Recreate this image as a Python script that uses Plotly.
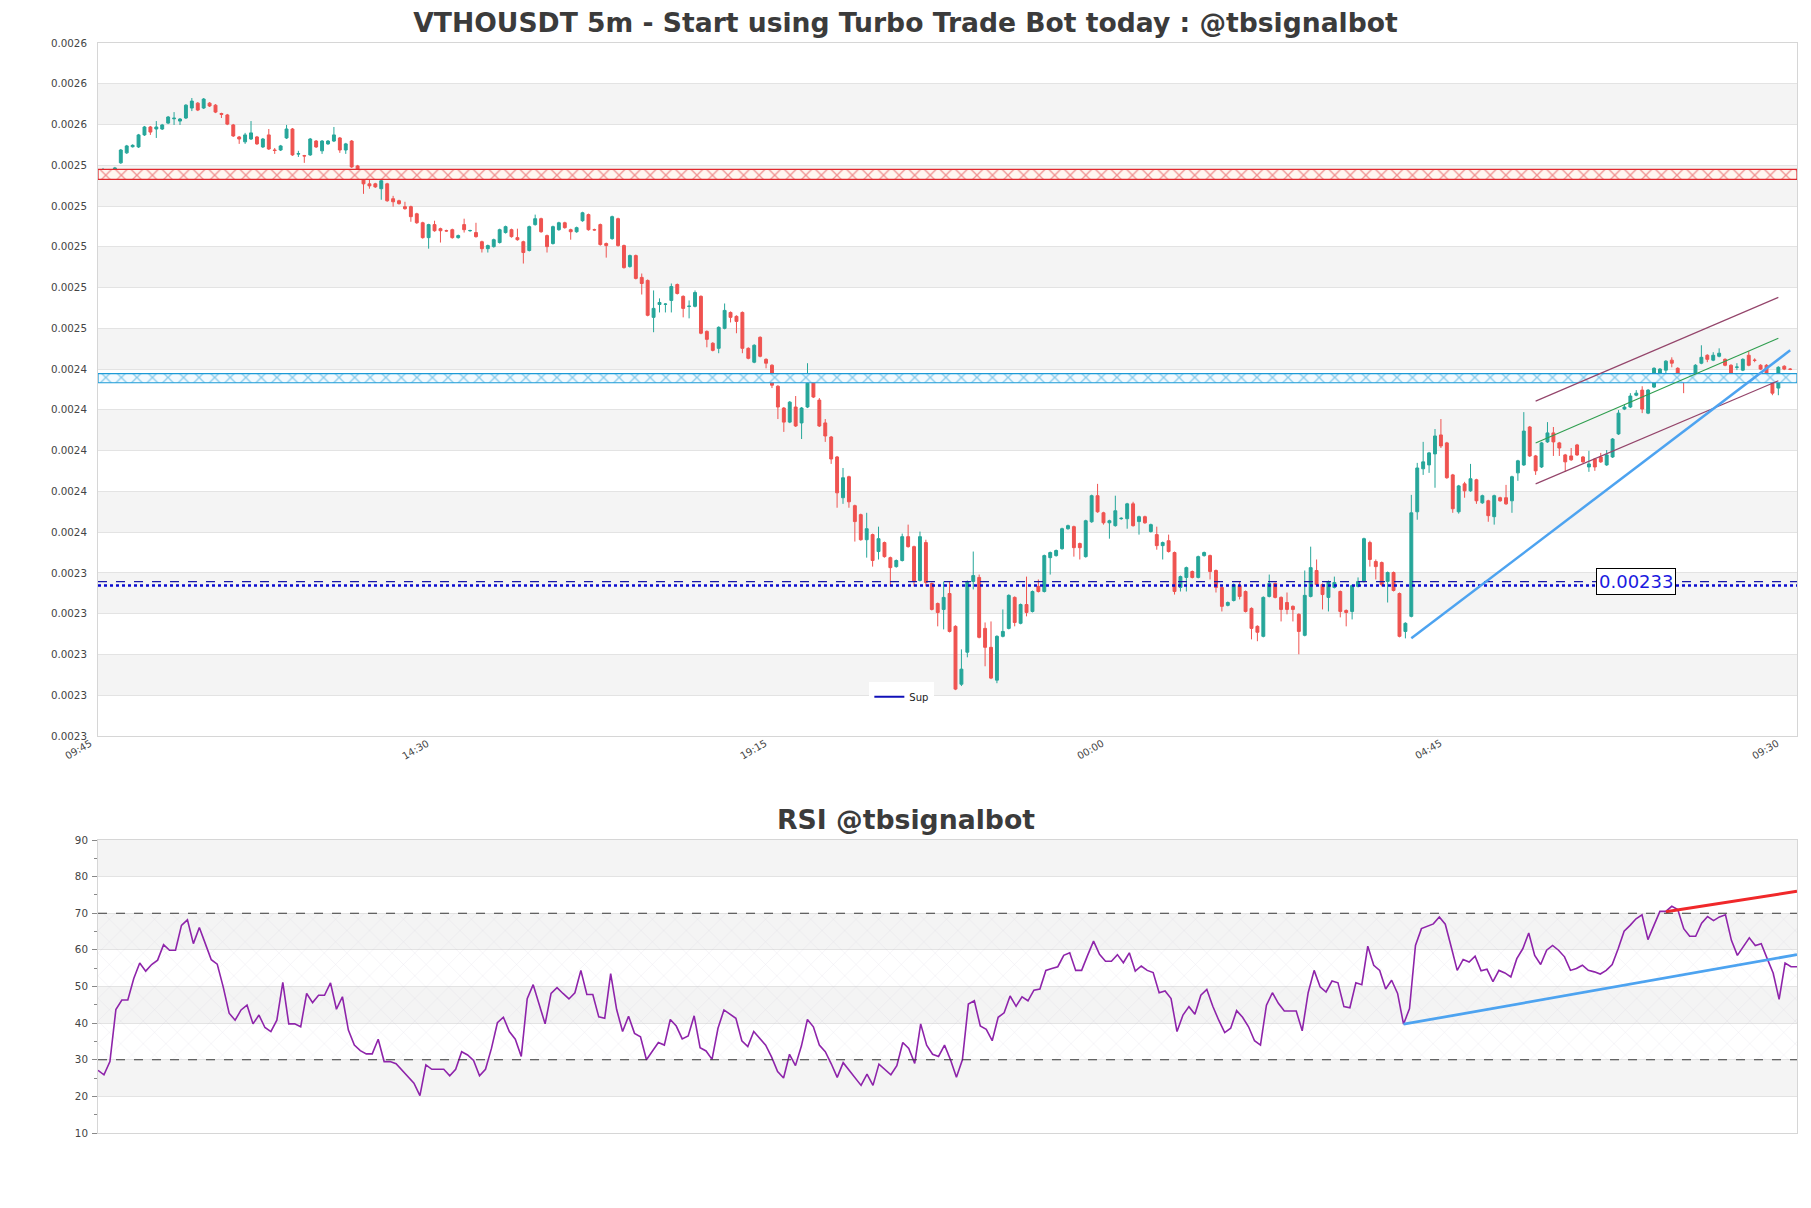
import numpy as np
import pandas as pd
import plotly.graph_objects as go

# ---------------- data (prices in millionths of USDT) ----------------
OPEN_U = [
2531.6,2533.1,2531.6,2537.0,2541.9,2544.9,2544.8,2550.7,2554.6,2553.6,
2553.6,2556.5,2558.6,2557.5,2559.0,2563.9,2566.3,2563.9,2566.3,2565.3,
2561.2,2560.5,2555.6,2549.7,2547.3,2548.7,2549.7,2544.8,2550.7,2543.3,
2543.3,2549.2,2553.6,2541.3,2540.5,2540.9,2547.7,2542.9,2546.3,2547.7,
2549.2,2543.3,2547.7,2535.5,2530.1,2526.7,2526.7,2524.3,2526.7,2519.4,
2518.4,2515.5,2515.5,2512.0,2507.6,2500.3,2506.7,2504.7,2503.7,2504.2,
2500.3,2506.7,2503.7,2502.8,2498.3,2494.9,2495.9,2497.9,2502.8,2504.2,
2500.3,2498.3,2494.0,2506.7,2509.6,2501.3,2497.4,2504.2,2507.6,2504.2,
2503.2,2508.6,2511.6,2504.2,2506.7,2497.4,2499.8,2509.6,2496.4,2486.1,
2491.5,2480.8,2479.3,2461.2,2467.5,2467.6,2469.5,2477.3,2471.5,2466.5,
2466.6,2471.5,2454.3,2448.5,2446.0,2455.8,2463.6,2461.7,2463.6,2446.0,
2439.2,2451.4,2440.6,2437.7,2427.4,2416.7,2409.8,2417.2,2409.4,2417.2,
2432.8,2420.6,2409.4,2402.5,2392.7,2372.7,2383.0,2368.8,2364.4,2352.1,
2354.6,2346.3,2350.7,2343.3,2338.9,2341.9,2353.6,2348.7,2332.1,2350.7,
2330.6,2320.8,2317.9,2325.7,2309.6,2281.2,2296.9,2331.6,2333.6,2308.6,
2299.3,2283.2,2304.7,2308.6,2323.8,2311.1,2320.3,2316.9,2329.2,2326.7,
2343.3,2344.3,2347.7,2357.5,2358.5,2350.2,2343.8,2360.9,2373.7,2365.3,
2360.4,2359.0,2362.4,2362.4,2369.7,2361.0,2363.4,2356.1,2354.6,2349.2,
2351.6,2345.8,2328.7,2333.6,2336.5,2333.6,2344.3,2344.3,2337.0,2328.7,
2319.9,2322.3,2329.6,2326.7,2318.4,2309.6,2304.7,2324.3,2330.6,2323.8,
2321.3,2319.4,2315.5,2305.2,2324.3,2337.0,2330.1,2323.8,2328.7,2326.7,
2317.4,2316.9,2329.2,2331.6,2350.7,2341.4,2340.9,2331.6,2336.0,2325.7,
2307.1,2314.5,2365.8,2386.9,2388.8,2394.2,2403.5,2399.6,2383.9,2365.8,
2379.5,2376.1,2381.5,2370.2,2371.2,2363.4,2372.7,2372.7,2371.2,2384.9,
2388.8,2407.4,2393.2,2387.8,2400.1,2404.5,2399.6,2393.7,2393.2,2398.6,
2392.7,2387.8,2391.7,2392.7,2388.8,2392.7,2404.0,2416.2,2417.2,2423.0,
2425.5,2414.2,2427.0,2431.4,2435.3,2440.2,2436.2,2431.8,2430.8,2430.4,
2438.7,2442.6,2440.2,2442.1,2440.6,2437.7,2436.7,2435.3,2442.6,2440.2,
2437.7,2437.7,2431.4,2426.5,2437.2,2435.8]

HIGH_U = [
2534.5,2534.0,2535.0,2543.8,2545.8,2546.1,2551.2,2555.1,2555.1,2557.5,
2556.1,2560.0,2561.9,2559.0,2565.8,2568.8,2566.8,2568.8,2566.8,2565.8,
2561.6,2561.0,2556.1,2550.2,2551.7,2557.5,2550.2,2549.2,2553.6,2544.3,
2545.8,2555.6,2554.1,2542.9,2540.9,2549.2,2548.2,2548.2,2548.2,2554.6,
2549.7,2546.8,2548.2,2536.0,2530.6,2529.2,2527.2,2528.7,2527.2,2520.8,
2518.9,2517.9,2516.0,2512.5,2508.1,2507.1,2508.6,2505.2,2504.2,2504.7,
2501.8,2509.6,2504.2,2507.6,2498.8,2496.9,2499.8,2504.7,2506.2,2504.7,
2504.7,2498.8,2506.2,2511.6,2510.1,2501.8,2506.2,2508.1,2508.1,2504.7,
2505.7,2513.0,2512.1,2504.7,2507.2,2497.9,2511.1,2510.1,2496.9,2492.0,
2492.0,2482.7,2479.8,2474.4,2470.5,2468.1,2477.8,2477.8,2472.0,2469.5,
2474.4,2472.0,2454.8,2449.0,2456.8,2468.0,2464.1,2462.2,2464.1,2446.5,
2448.0,2451.9,2441.1,2438.2,2427.9,2417.2,2420.1,2422.6,2417.2,2438.7,
2433.3,2421.6,2411.3,2403.0,2393.2,2387.3,2383.5,2369.3,2364.9,2365.3,
2355.1,2358.5,2351.2,2343.8,2342.4,2355.1,2359.5,2349.2,2356.1,2352.1,
2331.1,2321.3,2331.6,2331.6,2310.1,2298.3,2332.1,2346.3,2335.0,2311.5,
2312.0,2305.2,2317.9,2325.3,2324.3,2320.8,2334.0,2327.2,2332.6,2344.8,
2346.3,2347.3,2358.0,2359.5,2359.0,2350.7,2361.9,2374.2,2379.5,2365.8,
2361.9,2373.7,2363.1,2370.2,2370.7,2363.9,2363.9,2360.0,2358.5,2351.2,
2354.6,2346.3,2334.5,2338.9,2337.0,2344.3,2346.3,2344.8,2337.5,2329.2,
2321.8,2330.6,2331.6,2327.2,2318.9,2310.1,2324.3,2335.0,2331.1,2324.3,
2326.2,2319.9,2316.0,2337.0,2348.7,2342.4,2330.6,2332.1,2334.0,2327.2,
2317.9,2330.1,2333.6,2353.1,2351.6,2342.4,2341.4,2336.5,2336.5,2326.2,
2311.6,2374.1,2389.8,2400.1,2395.2,2406.4,2411.3,2400.1,2384.4,2379.0,
2380.5,2389.3,2382.0,2374.2,2371.7,2374.2,2373.2,2379.0,2383.5,2391.3,
2414.7,2407.9,2393.7,2400.1,2409.8,2407.4,2400.1,2394.2,2397.1,2399.1,
2393.2,2395.7,2392.2,2394.7,2396.1,2402.0,2415.7,2418.6,2424.0,2425.5,
2427.4,2426.0,2436.7,2436.3,2440.2,2441.6,2436.7,2432.3,2431.4,2438.2,
2447.5,2443.1,2444.1,2446.0,2441.1,2438.2,2438.7,2441.1,2444.6,2441.1,
2438.2,2438.2,2431.9,2437.2,2437.7,2436.3]

LOW_U = [
2528.7,2531.4,2531.1,2536.5,2541.4,2544.5,2544.3,2550.2,2550.7,2549.2,
2553.1,2556.0,2555.6,2555.6,2558.5,2562.4,2562.4,2563.4,2564.4,2561.4,
2559.0,2555.5,2549.7,2546.3,2546.3,2548.2,2545.8,2544.3,2543.3,2541.4,
2542.8,2548.7,2540.4,2539.9,2537.0,2540.4,2544.3,2541.4,2545.8,2547.2,
2541.9,2541.4,2534.5,2529.6,2521.8,2524.3,2524.7,2518.9,2517.9,2515.5,
2516.5,2514.0,2508.1,2507.1,2499.8,2494.9,2503.2,2497.9,2503.2,2499.8,
2499.8,2502.8,2503.2,2500.3,2493.0,2493.0,2495.4,2497.4,2502.3,2500.3,
2498.8,2487.6,2493.5,2506.2,2502.7,2493.0,2496.9,2503.7,2504.7,2499.3,
2502.7,2508.1,2503.7,2503.7,2496.4,2490.5,2499.3,2495.9,2485.1,2485.6,
2479.8,2472.4,2461.7,2453.9,2463.6,2463.6,2463.6,2472.4,2461.2,2460.7,
2466.1,2452.9,2446.5,2444.5,2443.6,2455.3,2458.7,2453.4,2443.6,2440.6,
2438.7,2441.6,2436.2,2426.5,2411.3,2405.0,2409.3,2407.4,2401.5,2416.7,
2421.6,2407.4,2400.1,2389.3,2367.8,2369.7,2367.8,2351.2,2351.6,2343.3,
2338.9,2342.4,2343.3,2329.2,2338.4,2341.4,2348.2,2329.2,2331.6,2329.2,
2317.4,2309.6,2308.1,2306.6,2278.3,2280.3,2294.4,2327.7,2303.7,2290.0,
2283.7,2281.7,2304.2,2308.1,2309.6,2310.6,2314.5,2316.4,2326.2,2326.2,
2335.0,2343.8,2347.2,2357.0,2343.8,2342.4,2343.3,2360.4,2365.3,2359.5,
2352.6,2358.5,2361.9,2357.5,2358.5,2354.6,2359.9,2355.6,2347.2,2342.4,
2345.8,2325.2,2326.7,2326.7,2333.1,2333.1,2343.8,2332.6,2326.2,2316.9,
2319.4,2321.8,2322.8,2316.4,2303.2,2302.3,2304.2,2323.8,2323.3,2312.0,
2315.5,2312.0,2295.9,2304.7,2323.8,2329.6,2317.9,2316.9,2328.2,2314.0,
2309.6,2313.0,2328.7,2331.1,2338.9,2332.6,2329.2,2321.3,2326.7,2304.2,
2303.7,2314.0,2361.9,2383.9,2384.9,2377.6,2397.1,2382.0,2365.3,2364.9,
2372.7,2375.6,2369.7,2369.7,2360.9,2359.5,2370.7,2369.2,2365.3,2381.0,
2388.3,2392.7,2383.9,2387.3,2399.6,2393.2,2393.2,2385.4,2390.8,2393.2,
2389.8,2385.4,2385.9,2389.8,2388.3,2392.2,2403.5,2415.7,2416.7,2422.5,
2414.2,2413.7,2426.5,2430.9,2429.4,2436.7,2431.3,2424.0,2430.4,2429.9,
2438.2,2439.2,2439.7,2441.6,2437.2,2432.3,2435.3,2434.8,2437.2,2439.2,
2435.3,2429.4,2423.0,2423.0,2435.3,2435.3]

CLOSE_U = [
2532.1,2531.8,2534.5,2543.3,2545.3,2545.6,2550.7,2554.6,2552.1,2554.6,
2555.6,2559.5,2558.9,2558.5,2565.3,2567.3,2562.9,2568.3,2564.9,2561.9,
2560.8,2556.0,2550.2,2548.7,2550.7,2551.7,2546.3,2548.7,2543.8,2543.1,
2545.3,2553.6,2540.9,2541.5,2540.4,2548.7,2544.8,2547.7,2547.7,2550.7,
2543.3,2546.3,2535.0,2530.1,2526.7,2525.7,2525.2,2528.2,2518.4,2517.9,
2517.0,2514.5,2510.6,2507.6,2500.3,2506.7,2503.7,2503.7,2503.6,2500.3,
2501.3,2504.2,2503.8,2500.8,2494.9,2496.4,2499.3,2504.2,2505.7,2500.8,
2499.3,2493.0,2505.7,2509.6,2503.2,2495.9,2505.7,2507.6,2505.2,2503.2,
2505.2,2512.5,2504.2,2504.1,2496.9,2496.4,2510.6,2496.4,2485.6,2491.5,
2480.3,2477.8,2462.2,2465.6,2468.5,2467.7,2476.3,2472.9,2465.6,2466.7,
2473.4,2453.4,2450.4,2445.0,2456.3,2464.6,2461.2,2459.2,2446.0,2441.1,
2447.5,2442.1,2438.7,2427.9,2417.2,2409.8,2419.6,2407.9,2416.7,2428.9,
2422.1,2407.9,2403.0,2391.7,2375.1,2382.5,2370.7,2361.0,2352.1,2357.5,
2341.9,2352.6,2343.8,2338.4,2341.9,2353.6,2348.7,2331.6,2353.6,2331.1,
2317.9,2316.4,2323.8,2307.1,2278.8,2288.6,2331.6,2334.5,2304.2,2299.3,
2284.2,2304.7,2307.1,2324.8,2311.5,2320.3,2316.4,2326.7,2326.7,2344.3,
2345.8,2346.8,2357.5,2359.0,2348.2,2348.2,2361.4,2373.7,2365.8,2360.4,
2361.4,2366.3,2362.6,2369.7,2359.0,2363.4,2360.4,2359.5,2349.2,2350.7,
2346.3,2326.7,2334.0,2338.4,2333.6,2343.8,2345.8,2336.5,2328.7,2319.4,
2321.3,2330.1,2324.3,2316.9,2308.6,2306.7,2323.8,2330.6,2323.8,2317.9,
2317.9,2317.9,2307.1,2324.8,2338.4,2330.1,2325.2,2331.6,2331.1,2316.9,
2316.4,2329.6,2331.6,2352.6,2342.4,2338.9,2330.1,2336.0,2327.2,2304.7,
2311.1,2365.3,2387.3,2390.3,2394.7,2403.0,2398.1,2382.5,2367.3,2378.5,
2376.1,2382.0,2371.2,2373.7,2363.9,2373.7,2371.2,2369.7,2383.0,2390.8,
2405.4,2393.2,2385.9,2399.6,2404.5,2400.1,2397.1,2390.3,2391.3,2393.7,
2390.3,2389.3,2387.8,2390.3,2393.7,2401.5,2414.2,2417.2,2422.6,2424.0,
2416.2,2425.5,2436.2,2435.8,2439.7,2438.7,2431.8,2430.4,2430.9,2437.7,
2441.6,2440.6,2442.6,2443.6,2437.7,2432.8,2436.8,2440.6,2437.7,2440.1,
2435.8,2431.8,2424.0,2436.7,2435.8,2435.7]

RSI = [
27.1,25.9,29.5,43.7,46.3,46.3,52.2,56.4,54.2,56.0,
57.2,61.4,59.9,59.9,66.7,68.2,61.7,66.1,61.7,57.3,
56.1,49.9,42.7,40.8,43.6,44.9,39.8,42.2,38.8,37.7,
40.8,51.1,39.8,39.8,39.0,48.1,45.6,47.6,47.6,51.0,
43.8,47.2,38.1,34.0,32.5,31.6,31.6,35.6,29.5,29.5,
28.9,27.1,25.2,23.6,20.2,28.6,27.4,27.4,27.4,25.6,
27.4,32.2,31.3,29.8,25.6,27.4,33.1,40.1,41.6,37.7,
35.6,30.9,46.7,50.5,45.4,39.8,48.1,49.7,48.1,46.6,
48.3,54.4,47.8,47.8,41.7,
41.3,53.5,43.7,37.7,41.9,37.2,36.3,30.0,32.2,34.7,
34.0,41.0,39.2,35.7,36.5,42.0,33.3,32.4,30.1,38.6,
43.6,42.5,41.3,35.2,33.6,37.7,35.9,34.0,30.7,26.8,
25.0,31.5,28.4,33.8,41.0,39.0,34.0,32.2,28.9,25.2,
29.2,27.1,25.0,23.0,26.1,23.0,28.8,27.4,25.9,28.4,
34.7,33.1,29.0,39.8,34.0,31.5,30.9,34.0,30.0,25.2,
30.0,45.2,46.1,39.2,38.3,35.2,41.6,42.8,47.4,44.6,
47.2,46.1,49.0,49.3,54.4,54.9,55.4,58.5,59.2,54.4,
54.4,58.5,62.4,58.8,56.9,56.9,58.7,56.5,59.2,54.2,
55.6,54.4,53.8,48.3,48.8,46.7,37.7,42.2,44.5,42.4,
47.6,
49.2,44.6,40.8,37.4,38.6,43.4,41.6,39.0,35.2,34.0,
44.9,48.3,45.4,43.3,43.3,43.3,37.9,48.3,54.4,49.9,
48.5,51.5,51.0,44.5,44.2,51.0,50.5,61.0,55.8,54.4,
49.3,51.7,48.1,39.7,44.0,61.2,65.8,66.4,67.1,69.0,
67.0,60.8,54.4,57.4,56.7,58.3,54.3,54.7,51.3,54.4,
53.7,52.6,57.6,60.3,64.6,58.5,56.0,59.9,61.2,59.9,
58.1,54.4,54.9,55.8,54.4,54.0,53.4,54.4,56.0,60.3,
65.1,66.7,68.5,69.6,62.8,66.7,70.5,70.5,71.9,71.0,
65.8,63.7,63.7,67.3,69.1,68.0,69.0,69.6,62.6,58.5,
60.8,63.3,61.2,61.7,57.6,53.7,46.5,56.4,55.4,55.4]

START = "2024-05-20 09:45"
TICK_LABEL_TIMES = ["09:45", "14:30", "19:15", "00:00", "04:45", "09:30"]

RES_ZONE_U = [2528.9, 2533.8]
SUP_ZONE_U = [2429.1, 2433.6]
SUP_DASH_U = 2331.5
SUP_DOT_U = 2329.6
SUP_LABEL = "0.00233"

TREND_IDX = [221, 285]
TREND_U = [2303.7, 2445.0]
CH_IDX = [242, 283]
CH_UP_U = [2420.1, 2471.0]
CH_MID_U = [2399.6, 2450.9]
CH_LO_U = [2379.5, 2430.1]

RSI_TREND_IDX = [219, 285]
RSI_TREND = [39.7, 58.7]
RSI_RED_IDX = [263, 285]
RSI_RED = [70.4, 76.0]

# ---------------- build ----------------
U = 1e-6
O = np.array(OPEN_U) * U
H = np.array(HIGH_U) * U
L = np.array(LOW_U) * U
C = np.array(CLOSE_U) * U
times = pd.date_range(START, periods=len(CLOSE_U), freq="5min")
step = pd.Timedelta(minutes=5)
xr0 = times[0] - 0.85 * step
xr1 = times[-1] + 1.15 * step

Y_TOP, Y_BOT = 0.0025958, 0.0022558
yticks = list(np.linspace(Y_TOP, Y_BOT, 18))

FONT = "DejaVu Sans"
TXT = "#444444"
GRID = "#e3e3e3"
BAND = "#f4f4f4"
MAIN_BOTTOM = (1133 - 736) / 1090

fig = go.Figure()

def zone(lo, hi, color, bg):
    fig.add_trace(go.Scatter(
        x=[xr0, xr1, xr1, xr0, xr0], y=[lo * U, lo * U, hi * U, hi * U, lo * U],
        mode="lines", fill="toself", line=dict(color=color, width=1.2),
        fillcolor=bg,
        fillpattern=dict(shape="x", fgcolor=color, bgcolor=bg, size=11, solidity=0.22),
        hoverinfo="skip", showlegend=False, xaxis="x", yaxis="y"))

zone(RES_ZONE_U[0], RES_ZONE_U[1], "#e0282d", "#fff6f0")
zone(SUP_ZONE_U[0], SUP_ZONE_U[1], "#1b9ad6", "#f2faff")

fig.add_trace(go.Scatter(x=[xr0, xr1], y=[SUP_DASH_U * U] * 2, mode="lines",
                         line=dict(color="#1a1aa6", width=1.3, dash="dash"),
                         hoverinfo="skip", showlegend=False, xaxis="x", yaxis="y"))
fig.add_trace(go.Scatter(x=[xr0, xr1], y=[SUP_DOT_U * U] * 2, mode="lines",
                         line=dict(color="#0a0ad0", width=2.5, dash="dot"),
                         hoverinfo="skip", showlegend=False, xaxis="x", yaxis="y"))
fig.add_trace(go.Scatter(x=[None], y=[None], mode="lines", name="Sup",
                         line=dict(color="#1010b8", width=2), xaxis="x", yaxis="y"))

fig.add_trace(go.Candlestick(
    x=times, open=O, high=H, low=L, close=C,
    increasing=dict(line=dict(color="#26a69a", width=1), fillcolor="#26a69a"),
    decreasing=dict(line=dict(color="#ef5350", width=1), fillcolor="#ef5350"),
    whiskerwidth=0, showlegend=False, hoverinfo="skip", xaxis="x", yaxis="y"))

def seg(idx, vals, color, width, scale=U, ax=("x", "y")):
    fig.add_trace(go.Scatter(x=[times[idx[0]], times[idx[1]]],
                             y=[vals[0] * scale, vals[1] * scale], mode="lines",
                             line=dict(color=color, width=width),
                             hoverinfo="skip", showlegend=False,
                             xaxis=ax[0], yaxis=ax[1]))

seg(CH_IDX, CH_UP_U, "#94456b", 1.1)
seg(CH_IDX, CH_LO_U, "#94456b", 1.1)
seg(CH_IDX, CH_MID_U, "#2f9e4f", 1.1)
seg(TREND_IDX, TREND_U, "#4da3f0", 2.5)

# RSI panel
fig.add_trace(go.Scatter(
    x=[times[0], times[-1], times[-1], times[0], times[0]], y=[30, 30, 70, 70, 30],
    mode="lines", fill="toself", line=dict(width=0), fillcolor="rgba(0,0,0,0)",
    fillpattern=dict(shape="x", fgcolor="rgba(175,165,195,0.55)",
                     bgcolor="rgba(0,0,0,0)", size=16, solidity=0.05),
    hoverinfo="skip", showlegend=False, xaxis="x2", yaxis="y2"))
fig.add_trace(go.Scatter(x=times, y=RSI, mode="lines",
                         line=dict(color="#8e24aa", width=1.6),
                         hoverinfo="skip", showlegend=False, xaxis="x2", yaxis="y2"))
seg(RSI_TREND_IDX, RSI_TREND, "#4da3f0", 2.8, scale=1, ax=("x2", "y2"))
seg(RSI_RED_IDX, RSI_RED, "#f0282a", 3.0, scale=1, ax=("x2", "y2"))

shapes = []
for k in range(1, 17, 2):
    shapes.append(dict(type="rect", xref="x domain", yref="y", x0=0, x1=1,
                       y0=yticks[k + 1], y1=yticks[k], fillcolor=BAND,
                       line=dict(width=0), layer="below"))
for lo in (80, 60, 40, 20):
    shapes.append(dict(type="rect", xref="x2 domain", yref="y2", x0=0, x1=1,
                       y0=lo, y1=lo + 10, fillcolor=BAND,
                       line=dict(width=0), layer="below"))
for lvl in (30, 70):
    shapes.append(dict(type="line", xref="x2 domain", yref="y2", x0=0, x1=1,
                       y0=lvl, y1=lvl, line=dict(color="#3a3a3a", width=1.2, dash="dash"),
                       layer="above"))

tick_vals = [times[0] + pd.Timedelta(minutes=285 * k) for k in range(6)]

annotations = [
    dict(text="<b>RSI @tbsignalbot</b>", xref="paper", yref="paper",
         x=(905.5 - 98) / 1699, y=(1133 - 819) / 1090, xanchor="center",
         yanchor="middle", showarrow=False,
         font=dict(family=FONT, size=26.7, color="#3b3b3b")),
    dict(text=SUP_LABEL, x=times[259], y=SUP_DASH_U * U, xref="x", yref="y",
         xanchor="center", yanchor="middle", showarrow=False,
         font=dict(family=FONT, size=18, color="#1a1ae0"),
         bgcolor="white", bordercolor="black", borderwidth=1, borderpad=2),
]
for tv, lab in zip(tick_vals, TICK_LABEL_TIMES):
    annotations.append(dict(text=lab, x=tv, y=MAIN_BOTTOM, xref="x", yref="paper",
                            xanchor="right", yanchor="top", textangle=-30,
                            xshift=-8, yshift=0, showarrow=False, borderpad=0,
                            font=dict(family=FONT, size=10, color=TXT)))

fig.update_layout(
    width=1811, height=1208,
    margin=dict(l=98, r=14, t=43, b=75),
    paper_bgcolor="white", plot_bgcolor="white",
    font=dict(family=FONT, size=10, color=TXT),
    title=dict(text="<b>VTHOUSDT 5m - Start using Turbo Trade Bot today : @tbsignalbot</b>",
               x=0.5, xref="container", xanchor="center",
               y=1 - 23 / 1208, yref="container", yanchor="middle",
               font=dict(family=FONT, size=26.6, color="#3b3b3b")),
    shapes=shapes,
    annotations=annotations,
    showlegend=True,
    legend=dict(x=0.454, y=0.4136, xanchor="left", yanchor="top",
                bgcolor="white", borderwidth=0, itemwidth=30,
                font=dict(size=10, color="#222")),
    xaxis=dict(domain=[0, 1], anchor="y", type="date", range=[xr0, xr1],
               rangeslider=dict(visible=False), showgrid=False,
               tickvals=tick_vals, showticklabels=False,
               showline=True, mirror=True, linecolor="#d6d6d6", linewidth=1,
               ticks="", zeroline=False),
    yaxis=dict(domain=[MAIN_BOTTOM, 1.0], anchor="x",
               range=[Y_BOT, Y_TOP], tickvals=yticks, tickformat=".4f",
               showgrid=True, gridcolor=GRID, gridwidth=1,
               tickfont=dict(size=10.3, color=TXT), ticklabelstandoff=8,
               showline=True, mirror=True, linecolor="#d6d6d6", linewidth=1,
               ticks="", zeroline=False),
    xaxis2=dict(domain=[0, 1], anchor="y2", type="date",
                range=[times[0], times[-1]], showgrid=False, showticklabels=False,
                showline=True, mirror=True, linecolor="#d6d6d6", ticks="",
                zeroline=False),
    yaxis2=dict(domain=[0, (1133 - 840) / 1090], anchor="x2", range=[10, 90],
                tickvals=[10, 20, 30, 40, 50, 60, 70, 80, 90],
                showgrid=True, gridcolor=GRID, gridwidth=1,
                tickfont=dict(size=10.3, color=TXT), ticklabelstandoff=2,
                ticks="outside", ticklen=5, tickcolor="#888",
                minor=dict(tickvals=[15, 25, 35, 45, 55, 65, 75, 85], ticks="outside",
                           ticklen=3, tickcolor="#888", showgrid=False),
                showline=True, mirror=True, linecolor="#d6d6d6", zeroline=False),
)

fig.write_html("out.html", config={"displayModeBar": False},
               post_script="document.body.style.margin='0';")
